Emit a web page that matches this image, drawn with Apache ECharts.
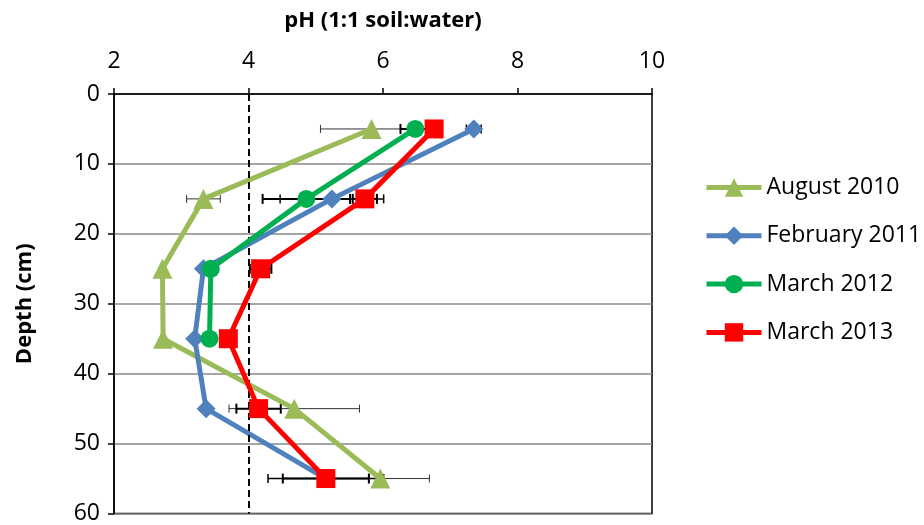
<!DOCTYPE html>
<html>
<head>
<meta charset="utf-8">
<script src="https://cdn.jsdelivr.net/npm/echarts@6/dist/echarts.min.js"></script>
<style>
  html, body { margin: 0; padding: 0; background: #fff; }
  #chart { width: 924px; height: 525px; }
</style>
</head>
<body>
<div id="chart"></div>
<script>
// Sampling depths (cm) and soil pH per sampling campaign
const depths = [5, 15, 25, 35, 45, 55];
const phAug2010 = [5.83, 3.33, 2.72, 2.73, 4.68, 5.96];
const phFeb2011 = [7.35, 5.24, 3.33, 3.20, 3.37, 5.15];
const phMar2012 = [6.48, 4.86, 3.44, 3.42, null, null];
const phMar2013 = [6.76, 5.73, 4.18, 3.70, 4.15, 5.15];

// Half-widths of the error bars (pH units); null = no bar
const errAug2010 = [0.76, 0.25, null, null, 0.97, 0.73];
const errFeb2011 = [0.11, 0.77, null, null, null, 0.86];
const errMar2012 = [0.22, 0.65, null, null, null, null];
const errMar2013 = [null, 0.18, 0.16, null, 0.33, 0.64];

const xTicks = { min: 2, max: 10, step: 2 };
const yTicks = { min: 0, max: 60, step: 10 };
const refPh = 4;

const FONT = '"Open Sans", sans-serif';

function pairs(ph) {
  return depths.map((d, i) => ph[i] == null ? null : [ph[i], d]).filter(p => p);
}
function errData(ph, err) {
  return depths.map((d, i) => (ph[i] == null || err[i] == null) ? null : [ph[i], d, err[i]]).filter(p => p);
}

function errorSeries(name, ph, err, width, color, capHalf) {
  return {
    type: 'custom',
    name: name,
    z: 1,
    silent: true,
    data: errData(ph, err),
    renderItem: function (params, api) {
      const x = api.value(0), y = api.value(1), e = api.value(2);
      const a = api.coord([x - e, y]);
      const b = api.coord([x + e, y]);
      const st = { stroke: color, lineWidth: width };
      return {
        type: 'group',
        children: [
          { type: 'line', shape: { x1: a[0], y1: a[1], x2: b[0], y2: b[1] }, style: st },
          { type: 'line', shape: { x1: a[0], y1: a[1] - capHalf, x2: a[0], y2: a[1] + capHalf }, style: st },
          { type: 'line', shape: { x1: b[0], y1: b[1] - capHalf, x2: b[0], y2: b[1] + capHalf }, style: st }
        ]
      };
    }
  };
}

function lineSeries(name, ph, color, symbol, size, z) {
  return {
    type: 'line',
    name: name,
    data: pairs(ph),
    z: z,
    symbol: symbol,
    symbolSize: size,
    showAllSymbol: true,
    lineStyle: { color: color, width: 5 },
    itemStyle: { color: color, borderWidth: 0 },
    emphasis: { disabled: true },
    animation: false
  };
}

const chart = echarts.init(document.getElementById('chart'), null, { renderer: 'canvas' });

const series = [
  errorSeries('errAug', phAug2010, errAug2010, 1, '#333', 4),
  errorSeries('errFeb', phFeb2011, errFeb2011, 1.5, '#000', 4.5),
  errorSeries('errMar12', phMar2012, errMar2012, 2, '#000', 5),
  errorSeries('errMar13', phMar2013, errMar2013, 2, '#000', 5),
  Object.assign(lineSeries('August 2010', phAug2010, '#9BBB59', 'triangle', 20, 3), {
    markLine: {
      silent: true,
      symbol: 'none',
      animation: false,
      label: { show: false },
      lineStyle: { color: '#000', width: 2, type: [7, 4] },
      data: [[{ coord: [refPh, yTicks.min] }, { coord: [refPh, yTicks.max] }]]
    }
  }),
  lineSeries('February 2011', phFeb2011, '#4F81BD', 'diamond', 19, 4),
  lineSeries('March 2012', phMar2012, '#00B050', 'circle', 18, 5),
  lineSeries('March 2013', phMar2013, '#FF0000', 'rect', 19, 6)
];

chart.setOption({
  animation: false,
  backgroundColor: '#fff',
  grid: {
    left: 114, top: 94, right: 272, bottom: 9,
    show: true, borderColor: '#000', borderWidth: 1.5
  },
  legend: {
    data: ['August 2010', 'February 2011', 'March 2012', 'March 2013'],
    orient: 'vertical',
    left: 704,
    top: 176,
    padding: 0,
    itemWidth: 55,
    itemHeight: 23,
    itemGap: 25.3,
    selectedMode: false,
    lineStyle: { width: 5 },
    textStyle: { fontFamily: FONT, fontSize: 23, color: '#000' }
  },
  xAxis: {
    type: 'value',
    position: 'top',
    min: xTicks.min, max: xTicks.max, interval: xTicks.step,
    name: 'pH (1:1 soil:water)',
    nameLocation: 'middle',
    nameGap: 62,
    nameTextStyle: { fontFamily: FONT, fontSize: 22, fontWeight: 'bold', color: '#000' },
    axisLine: { show: true, lineStyle: { color: '#000', width: 1.5 } },
    axisTick: { show: true, inside: false, length: 6, lineStyle: { color: '#000', width: 1.5 } },
    axisLabel: { fontFamily: FONT, fontSize: 23, color: '#000', margin: 21 },
    splitLine: { show: false }
  },
  yAxis: {
    type: 'value',
    inverse: true,
    min: yTicks.min, max: yTicks.max, interval: yTicks.step,
    name: 'Depth (cm)',
    nameLocation: 'middle',
    nameGap: 78,
    nameRotate: 90,
    nameTextStyle: { fontFamily: FONT, fontSize: 22, fontWeight: 'bold', color: '#000' },
    axisLine: { show: true, lineStyle: { color: '#000', width: 1.5 } },
    axisTick: { show: true, inside: false, length: 6, lineStyle: { color: '#000', width: 1.5 } },
    axisLabel: { fontFamily: FONT, fontSize: 23, color: '#000', margin: 14 },
    splitLine: { show: true, lineStyle: { color: '#898989', width: 1.5 } }
  },
  series: series
});
</script>
</body>
</html>
